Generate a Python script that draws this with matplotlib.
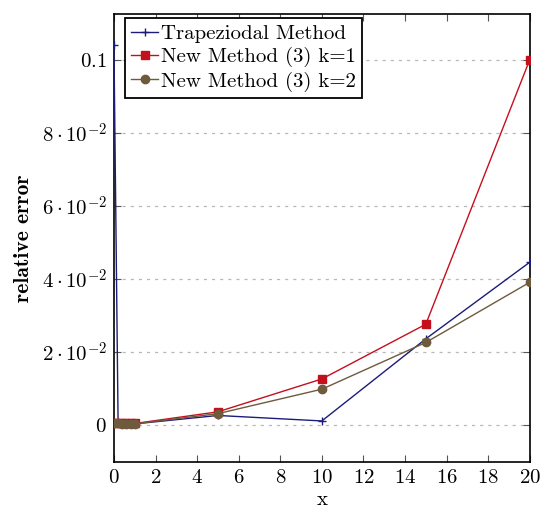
"""Relative error of the trapezoidal rule vs. the new method (3), k=1 and k=2."""
import matplotlib
matplotlib.use("Agg")
import matplotlib.pyplot as plt
from matplotlib.ticker import FixedLocator, FixedFormatter

plt.rcParams["font.family"] = ["cmr10", "DejaVu Serif"]
plt.rcParams["mathtext.fontset"] = "cm"
plt.rcParams["axes.unicode_minus"] = False

x_vals = [0, 0.2, 0.4, 0.6, 0.8, 1.0, 5, 10, 15, 20]
trap_err = [0.104, 0.0005, 0.0003, 0.0002, 0.0002, 0.0002, 0.0025, 0.001, 0.0235, 0.0445]
new_k1_err = [0.0005, 0.0004, 0.0004, 0.0003, 0.0003, 0.0003, 0.0035, 0.0125, 0.0275, 0.1]
new_k2_err = [0.0003, 0.0003, 0.0002, 0.0002, 0.0002, 0.0002, 0.003, 0.0097, 0.0225, 0.039]

x_ticks = list(range(0, 21, 2))
y_ticks = [0, 0.02, 0.04, 0.06, 0.08, 0.1]
y_tick_labels = [r"$0$", r"$2\cdot10^{-2}$", r"$4\cdot10^{-2}$",
                 r"$6\cdot10^{-2}$", r"$8\cdot10^{-2}$", r"$0.1$"]

fig = plt.figure(figsize=(5.4, 5.23), dpi=100)
ax = fig.add_axes([0.211, 0.117, 0.77, 0.856])

ax.plot(x_vals, trap_err, color="#1c1c7a", marker="+", markersize=6,
        linewidth=1.0, label="Trapeziodal Method", zorder=3)
ax.plot(x_vals, new_k1_err, color="#c4101c", marker="s", markersize=6,
        linewidth=1.0, label="New Method (3) k=1", zorder=3)
ax.plot(x_vals, new_k2_err, color="#6e5a3c", marker="o", markersize=6,
        linewidth=1.0, label="New Method (3) k=2", zorder=3)

ax.set_xlim(0, 20)
ax.set_ylim(-0.0102, 0.1125)
ax.xaxis.set_major_locator(FixedLocator(x_ticks))
ax.xaxis.set_major_formatter(FixedFormatter([f"${t}$" for t in x_ticks]))
ax.yaxis.set_major_locator(FixedLocator(y_ticks))
ax.yaxis.set_major_formatter(FixedFormatter(y_tick_labels))
ax.tick_params(direction="in", top=True, right=True, labelsize=15, length=5,
               color="#555555", pad=5)
ax.grid(axis="y", linestyle=(0, (2.5, 4)), color="#b8b8b8", linewidth=0.9)

ax.set_xlabel("x", fontsize=15, labelpad=3)
ax.set_ylabel("relative error", fontsize=15.5, family="cmb10", labelpad=6)

for s in ax.spines.values():
    s.set_linewidth(1.2)

leg = ax.legend(loc="upper left", fontsize=15, frameon=True, fancybox=False,
                edgecolor="black", framealpha=1, handlelength=1.3,
                handletextpad=0.15, borderpad=0.3, labelspacing=0.2,
                borderaxespad=0, bbox_to_anchor=(0.026, 0.991))
leg.get_frame().set_linewidth(1.3)

fig.savefig("out.png", dpi=100)
